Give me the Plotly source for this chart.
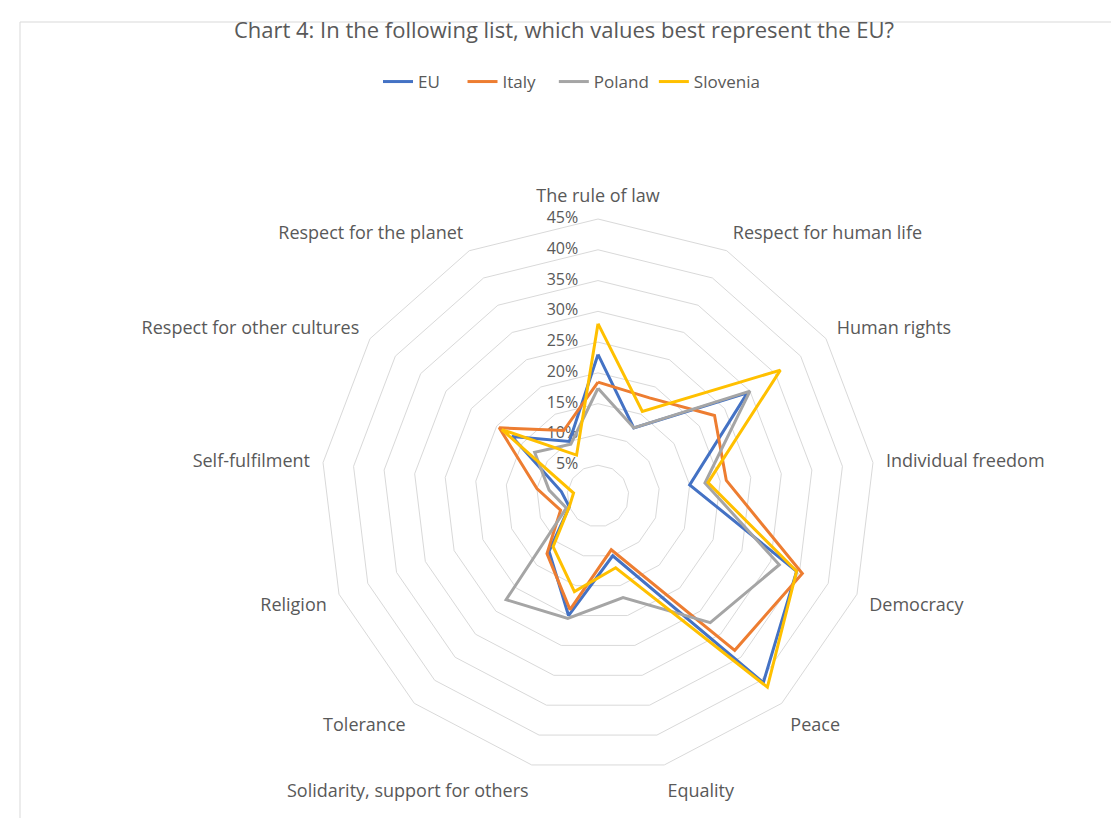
import plotly.graph_objects as go

categories = ["The rule of law", "Respect for human life", "Human rights", "Individual freedom",
              "Democracy", "Peace", "Equality", "Solidarity, support for others", "Tolerance",
              "Religion", "Self-fulfilment", "Respect for other cultures", "Respect for the planet"]

eu = [23, 12.5, 29.5, 15, 34.5, 40.5, 10, 20, 12, 5, 6, 17, 10]
italy = [18.5, 18, 23, 21, 35.5, 33.5, 9, 19, 12.5, 6.5, 10, 19.5, 12]
poland = [17.5, 12.5, 30, 17.5, 31.5, 27.5, 17, 20.5, 22.5, 5.5, 8, 12.5, 9.5]
slovenia = [28, 15.5, 36, 18, 34.5, 41.5, 12, 16, 11, 5, 4, 19, 7.5]

series_names = ["EU", "Italy", "Poland", "Slovenia"]
series_values = [eu, italy, poland, slovenia]
colors = ["#4472C4", "#ED7D31", "#A5A5A5", "#FFC000"]
legend_pad = [4, 3, 0, 0]

radial_ticks = list(range(0, 50, 5))
radial_labels = [f"{v}%" for v in radial_ticks]

fig = go.Figure()
# radial tick labels, placed left of the first axis through the polar scale
fig.add_trace(go.Scatterpolar(
    r=radial_ticks, theta=[categories[0]] * len(radial_ticks),
    mode="markers+text", text=radial_labels, textposition="middle left",
    marker=dict(size=30, opacity=0), textfont=dict(size=16, color="#595959"),
    showlegend=False, hoverinfo="skip"))

for name, vals, col, pad in zip(series_names, series_values, colors, legend_pad):
    fig.add_trace(go.Scatterpolar(
        r=vals + vals[:1], theta=categories + categories[:1],
        mode="lines", name=name + "\u00a0" * pad, line=dict(color=col, width=3),
        hoverinfo="skip"))

W, H = 1119, 818
L, R, T, B = 92, 31, 211, 53

fig.update_layout(
    width=W, height=H,
    margin=dict(l=L, r=R, t=T, b=B),
    paper_bgcolor="white",
    font=dict(family="Open Sans, Liberation Sans, sans-serif", color="#595959", size=18),
    title=dict(text="Chart 4: In the following list, which values best represent the EU?",
               x=556 / W, xanchor="center", y=1 - 22 / H, yanchor="middle",
               font=dict(size=22, color="#595959")),
    legend=dict(orientation="h", x=370 / W, xanchor="left", xref="container",
                y=1 - 74 / H, yref="container", yanchor="middle",
                font=dict(size=17, color="#595959"), itemwidth=30),
    polar=dict(
        bgcolor="white",
        gridshape="linear",
        domain=dict(x=[0, 1], y=[0, 1]),
        angularaxis=dict(rotation=90, direction="clockwise", showgrid=False,
                         showline=True, linecolor="#D9D9D9", linewidth=1,
                         ticks="outside", ticklen=9, tickcolor="rgba(0,0,0,0)",
                         tickfont=dict(size=18, color="#595959")),
        radialaxis=dict(range=[0, 45], tickvals=radial_ticks, showticklabels=False,
                        showline=False, gridcolor="#D9D9D9", gridwidth=1,
                        angle=90, ticks=""),
    ),
    shapes=[dict(type="rect", xref="paper", yref="paper",
                 x0=(12 - L) / (W - L - R), x1=(W + 20 - L) / (W - L - R),
                 y0=-0.2, y1=(H - B - 14) / (H - T - B),
                 line=dict(color="#D9D9D9", width=1), fillcolor="rgba(0,0,0,0)", layer="below")],
)

fig.write_html("out.html")
